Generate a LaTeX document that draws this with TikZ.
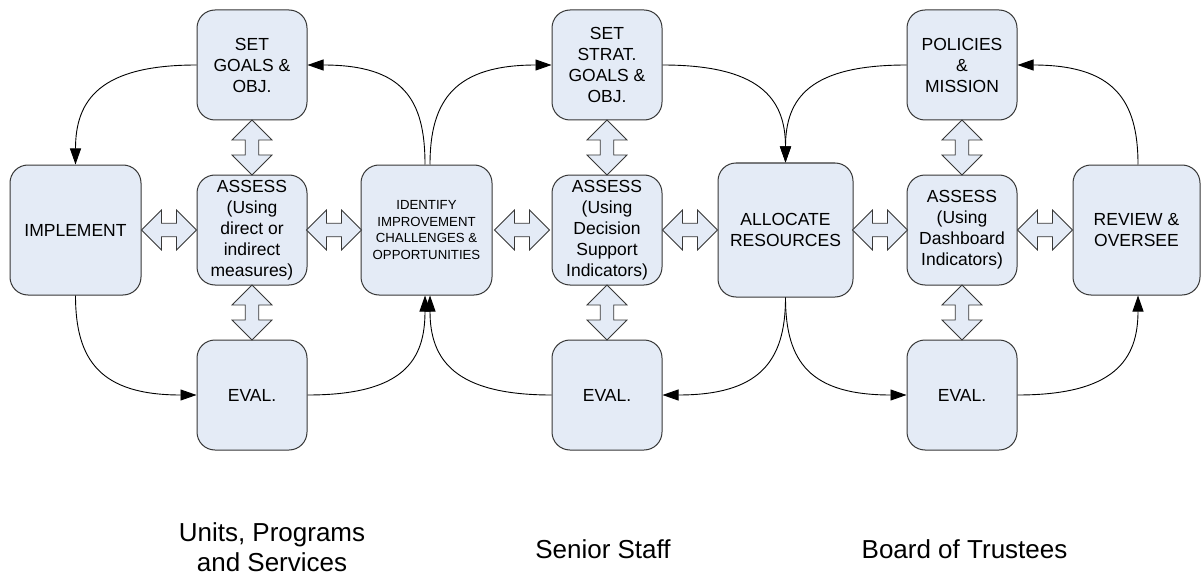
\documentclass[tikz,border=0pt]{standalone}
\usepackage{fontspec}
\setmainfont{Liberation Sans}
\usetikzlibrary{arrows.meta,calc}
\definecolor{boxfill}{RGB}{228,235,246}
\definecolor{boxline}{RGB}{55,55,55}
\begin{document}
\begin{tikzpicture}[x=1pt,y=-1pt,
  box/.style={draw=boxline, fill=boxfill, line width=1pt, rounded corners=18pt,
    align=center, inner sep=0pt, font=\fontsize{17.5}{21}\selectfont, text=black},
  sq/.style={box, minimum width=110pt, minimum height=110pt},
  tall/.style={box, minimum width=131pt, minimum height=130pt},
  conn/.style={line width=0.9pt, -{Triangle[length=16pt,width=11pt]}},
  dbl/.style={draw=boxline, fill=boxfill, line width=0.8pt},
  caption/.style={font=\fontsize{26}{30}\selectfont, align=center, inner sep=0pt},
  dblarrow/.pic={\path[dbl] (-27.5,0) -- (-7.5,-20) -- (-7.5,-6.75) -- (7.5,-6.75)
    -- (7.5,-20) -- (27.5,0) -- (7.5,20) -- (7.5,6.75) -- (-7.5,6.75) -- (-7.5,20) -- cycle;}
]
\fill[white] (0,0) rectangle (1202,575);
\useasboundingbox (0,0) rectangle (1202,575);

% Group 1
\node[sq] (sg1) at (252,65) {SET\\GOALS \&\\OBJ.};
\node[tall] (imp) at (75.5,230) {IMPLEMENT};
\node[sq] (as1) at (252,230) {ASSESS\\(Using\\direct or\\indirect\\measures)};
\node[sq] (ev1) at (252,395) {EVAL.};
\node[tall, font=\fontsize{13.2}{16.5}\selectfont] (idf) at (426.5,230) {IDENTIFY\\IMPROVEMENT\\CHALLENGES \&\\OPPORTUNITIES};

% Group 2
\node[sq] (sg2) at (607,65) {SET\\STRAT.\\GOALS \&\\OBJ.};
\node[sq] (as2) at (607,230) {ASSESS\\(Using\\Decision\\Support\\Indicators)};
\node[sq] (ev2) at (607,395) {EVAL.};
\node[box, minimum width=135pt, minimum height=134pt] (alc) at (785.5,230) {ALLOCATE\\RESOURCES};

% Group 3
\node[sq] (pol) at (962,65) {POLICIES\\\&\\MISSION};
\node[sq] (as3) at (962,230) {ASSESS\\(Using\\Dashboard\\Indicators)};
\node[sq] (ev3) at (962,395) {EVAL.};
\node[box, minimum width=127pt, minimum height=130pt] (rev) at (1136.5,230) {REVIEW \&\\OVERSEE};

% Double arrows
\pic at ($(imp.east)!0.5!(as1.west)$) {dblarrow};
\pic at ($(as1.east)!0.5!(idf.west)$) {dblarrow};
\pic at ($(idf.east)!0.5!(as2.west)$) {dblarrow};
\pic at ($(as2.east)!0.5!(alc.west)$) {dblarrow};
\pic at ($(alc.east)!0.5!(as3.west)$) {dblarrow};
\pic at ($(as3.east)!0.5!(rev.west)$) {dblarrow};
\pic[rotate=90] at ($(sg1.south)!0.5!(as1.north)$) {dblarrow};
\pic[rotate=90] at ($(as1.south)!0.5!(ev1.north)$) {dblarrow};
\pic[rotate=90] at ($(sg2.south)!0.5!(as2.north)$) {dblarrow};
\pic[rotate=90] at ($(as2.south)!0.5!(ev2.north)$) {dblarrow};
\pic[rotate=90] at ($(pol.south)!0.5!(as3.north)$) {dblarrow};
\pic[rotate=90] at ($(as3.south)!0.5!(ev3.north)$) {dblarrow};

% Connectors (top)
\draw[conn] (sg1.west) .. controls +(-96,0) and +(0,-65) .. (imp.north);
\draw[conn] ([xshift=-1.5pt]idf.north) .. controls +(0,-65) and +(96,0) .. (sg1.east);
\draw[conn] ([xshift=3.5pt]idf.north) .. controls +(0,-65) and +(-96,0) .. (sg2.west);
\draw[conn] (sg2.east) .. controls +(96,0) and +(0,-65) .. (alc.north);
\draw[conn] (pol.west) .. controls +(-96,0) and +(0,-65) .. (alc.north);
\draw[conn] ([xshift=1.5pt]rev.north) .. controls +(0,-65) and +(96,0) .. (pol.east);

% Connectors (bottom)
\draw[conn] (imp.south) .. controls +(0,65) and +(-96,0) .. (ev1.west);
\draw[conn] (ev1.east) .. controls +(96,0) and +(0,65) .. ([xshift=-1.5pt]idf.south);
\draw[conn] (ev2.west) .. controls +(-96,0) and +(0,65) .. ([xshift=3.5pt]idf.south);
\draw[conn] (alc.south) .. controls +(0,65) and +(96,0) .. (ev2.east);
\draw[conn] (alc.south) .. controls +(0,65) and +(-96,0) .. (ev3.west);
\draw[conn] (ev3.east) .. controls +(96,0) and +(0,65) .. ([xshift=1.5pt]rev.south);

% Captions
\node[caption] (c1) at (272,547) {Units, Programs\\and Services};
\node[caption] (c2) at (603,549) {Senior Staff};
\node[caption] (c3) at (964.5,549) {Board of Trustees};
\end{tikzpicture}
\end{document}
